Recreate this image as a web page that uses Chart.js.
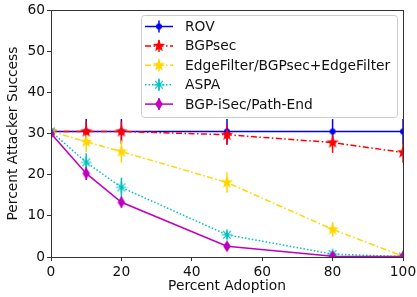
<!DOCTYPE html>
<html>
<head>
<meta charset="utf-8">
<script src="https://cdn.jsdelivr.net/npm/chart.js@4"></script>
<style>
  body { margin: 0; background: #fff; }
  #wrap { width: 417px; height: 297px; }
</style>
</head>
<body>
<div id="wrap"><canvas id="chart" width="417" height="297"></canvas></div>
<script>
// --- Data ---
const adoption = [0, 10, 20, 50, 80, 100];
const seriesNames = ['ROV', 'BGPsec', 'EdgeFilter/BGPsec+EdgeFilter', 'ASPA', 'BGP-iSec/Path-End'];
const rovVals = [30.5, 30.5, 30.5, 30.5, 30.5, 30.5];
const rovErr = [3, 3, 3, 3, 3, 3];
const bgpsecVals = [30.5, 30.5, 30.5, 29.7, 27.8, 25.4];
const bgpsecErr = [2.5, 2.5, 2.5, 2.5, 2.5, 2.5];
const edgeVals = [30.5, 28.0, 25.6, 18.1, 6.7, 0.2];
const edgeErr = [2, 2.5, 2.7, 2.5, 1.8, 0.3];
const aspaVals = [30.5, 23.0, 16.9, 5.4, 0.7, 0.1];
const aspaErr = [2, 2.2, 2.4, 1, 0.5, 0.1];
const isecVals = [30.0, 20.3, 13.3, 2.6, 0.2, 0.1];
const isecErr = [2, 1.6, 1.3, 0.9, 0.3, 0.1];
const yTicks = [0, 10, 20, 30, 40, 50, 60];
const xTicks = [0, 20, 40, 60, 80, 100];

const FONT = "'DejaVu Sans', sans-serif";
const FSIZE = 13.8;

// --- Marker images (matplotlib-like shapes) ---
function makeMarker(kind, color) {
    const c = document.createElement('canvas');
    c.width = 16; c.height = 16;
    const g = c.getContext('2d');
    g.translate(8, 8);
    g.fillStyle = color;
    g.strokeStyle = color;
    if (kind === 'dot') {
        g.beginPath(); g.arc(0, 0, 3, 0, Math.PI * 2); g.fill();
    } else if (kind === 'star') {
        g.beginPath();
        for (let i = 0; i < 10; i++) {
            const r = i % 2 === 0 ? 6.5 : 2.7;
            const a = -Math.PI / 2 + i * Math.PI / 5;
            g.lineTo(r * Math.cos(a), r * Math.sin(a));
        }
        g.closePath(); g.fill();
    } else if (kind === 'asterisk') {
        g.lineWidth = 1.2;
        g.beginPath();
        for (let i = 0; i < 4; i++) {
            const a = i * Math.PI / 4;
            g.moveTo(-5.5 * Math.cos(a), -5.5 * Math.sin(a));
            g.lineTo(5.5 * Math.cos(a), 5.5 * Math.sin(a));
        }
        g.stroke();
    } else if (kind === 'diamond') {
        g.beginPath();
        g.moveTo(0, -6); g.lineTo(3.8, 0); g.lineTo(0, 6); g.lineTo(-3.8, 0);
        g.closePath(); g.fill();
    }
    return c;
}

const colors = ['#0000ff', '#ff0000', '#ffd700', '#00bfbf', '#bf00bf'];
const dashes = [[], [6, 2.5, 1.5, 2.5], [6, 2.5, 1.5, 2.5], [1.5, 2], []];
const markers = [
    makeMarker('dot', colors[0]),
    makeMarker('star', colors[1]),
    makeMarker('star', colors[2]),
    makeMarker('asterisk', colors[3]),
    makeMarker('diamond', colors[4])
];
const allVals = [rovVals, bgpsecVals, edgeVals, aspaVals, isecVals];
const allErr = [rovErr, bgpsecErr, edgeErr, aspaErr, isecErr];

const datasets = seriesNames.map((name, i) => ({
    label: name,
    data: adoption.map((x, j) => ({ x: x, y: allVals[i][j] })),
    errors: allErr[i],
    borderColor: colors[i],
    backgroundColor: colors[i],
    borderWidth: 1.5,
    borderDash: dashes[i],
    pointStyle: markers[i],
    pointRadius: 6,
    tension: 0,
    order: 5 - i
}));

// --- Plugins ---
// vertical error bars, drawn under the lines/markers
const errorBars = {
    id: 'errorBars',
    beforeDatasetsDraw(chart) {
        const ctx = chart.ctx;
        const yScale = chart.scales.y;
        const area = chart.chartArea;
        ctx.save();
        ctx.beginPath();
        ctx.rect(area.left, area.top, area.right - area.left, area.bottom - area.top);
        ctx.clip();
        chart.data.datasets.forEach((ds, i) => {
            const meta = chart.getDatasetMeta(i);
            ctx.strokeStyle = ds.borderColor;
            ctx.lineWidth = 1.5;
            meta.data.forEach((pt, j) => {
                const v = ds.data[j].y;
                const e = ds.errors[j];
                ctx.beginPath();
                ctx.moveTo(pt.x, yScale.getPixelForValue(v - e));
                ctx.lineTo(pt.x, yScale.getPixelForValue(v + e));
                ctx.stroke();
            });
        });
        ctx.restore();
    }
};

// top/right spines and the legend box inside the plot
const frameAndLegend = {
    id: 'frameAndLegend',
    afterDraw(chart) {
        const ctx = chart.ctx;
        const a = chart.chartArea;
        ctx.save();
        ctx.strokeStyle = '#333';
        ctx.lineWidth = 1;
        ctx.strokeRect(Math.round(a.left) + 0.5, Math.round(a.top) + 0.5,
            Math.round(a.right - a.left), Math.round(a.bottom - a.top));

        // legend
        const bx = 141, by = 15, bw = 256, bh = 102;
        ctx.fillStyle = 'rgba(255,255,255,0.8)';
        ctx.strokeStyle = '#cccccc';
        ctx.beginPath();
        ctx.roundRect(bx + 0.5, by + 0.5, bw, bh, 3);
        ctx.fill();
        ctx.stroke();
        ctx.font = FSIZE + 'px ' + FONT;
        ctx.textBaseline = 'middle';
        chart.data.datasets.forEach((ds, i) => {
            const cy = 26.5 + i * 19.4;
            ctx.strokeStyle = ds.borderColor;
            ctx.lineWidth = 1.5;
            ctx.setLineDash(ds.borderDash);
            ctx.beginPath();
            ctx.moveTo(145, cy); ctx.lineTo(173, cy);
            ctx.stroke();
            ctx.setLineDash([]);
            ctx.beginPath();
            ctx.moveTo(159, cy - 6); ctx.lineTo(159, cy + 6);
            ctx.stroke();
            ctx.drawImage(ds.pointStyle, 159 - 8, cy - 8);
            ctx.fillStyle = '#111';
            ctx.fillText(ds.label, 185, cy + 1);
        });
        ctx.restore();
    }
};

new Chart(document.getElementById('chart'), {
    type: 'line',
    data: { datasets: datasets },
    options: {
        responsive: false,
        animation: false,
        layout: { padding: { top: 10, right: 14, left: 0, bottom: 0 } },
        plugins: { legend: { display: false }, tooltip: { enabled: false } },
        scales: {
            x: {
                type: 'linear', min: 0, max: 100,
                afterBuildTicks: s => { s.ticks = xTicks.map(v => ({ value: v })); },
                afterFit: s => { s.height = 40; s.paddingLeft = 0; s.paddingRight = 0; },
                grid: { drawOnChartArea: false, tickLength: 4, color: '#333' },
                border: { color: '#333' },
                ticks: { color: '#111', font: { family: FONT, size: FSIZE }, padding: 3, maxRotation: 0 },
                title: { display: true, text: 'Percent Adoption', color: '#111', font: { family: FONT, size: FSIZE }, padding: { top: 2, bottom: 2 } }
            },
            y: {
                min: 0, max: 60,
                afterBuildTicks: s => { s.ticks = yTicks.map(v => ({ value: v })); },
                afterFit: s => { s.width = 51; s.paddingTop = 0; s.paddingBottom = 0; },
                grid: { drawOnChartArea: false, tickLength: 4, color: '#333' },
                border: { color: '#333' },
                ticks: { color: '#111', font: { family: FONT, size: FSIZE }, padding: 2 },
                title: { display: true, text: 'Percent Attacker Success', color: '#111', font: { family: FONT, size: FSIZE }, padding: { top: 5, bottom: 5 } }
            }
        }
    },
    plugins: [errorBars, frameAndLegend]
});
</script>
</body>
</html>
